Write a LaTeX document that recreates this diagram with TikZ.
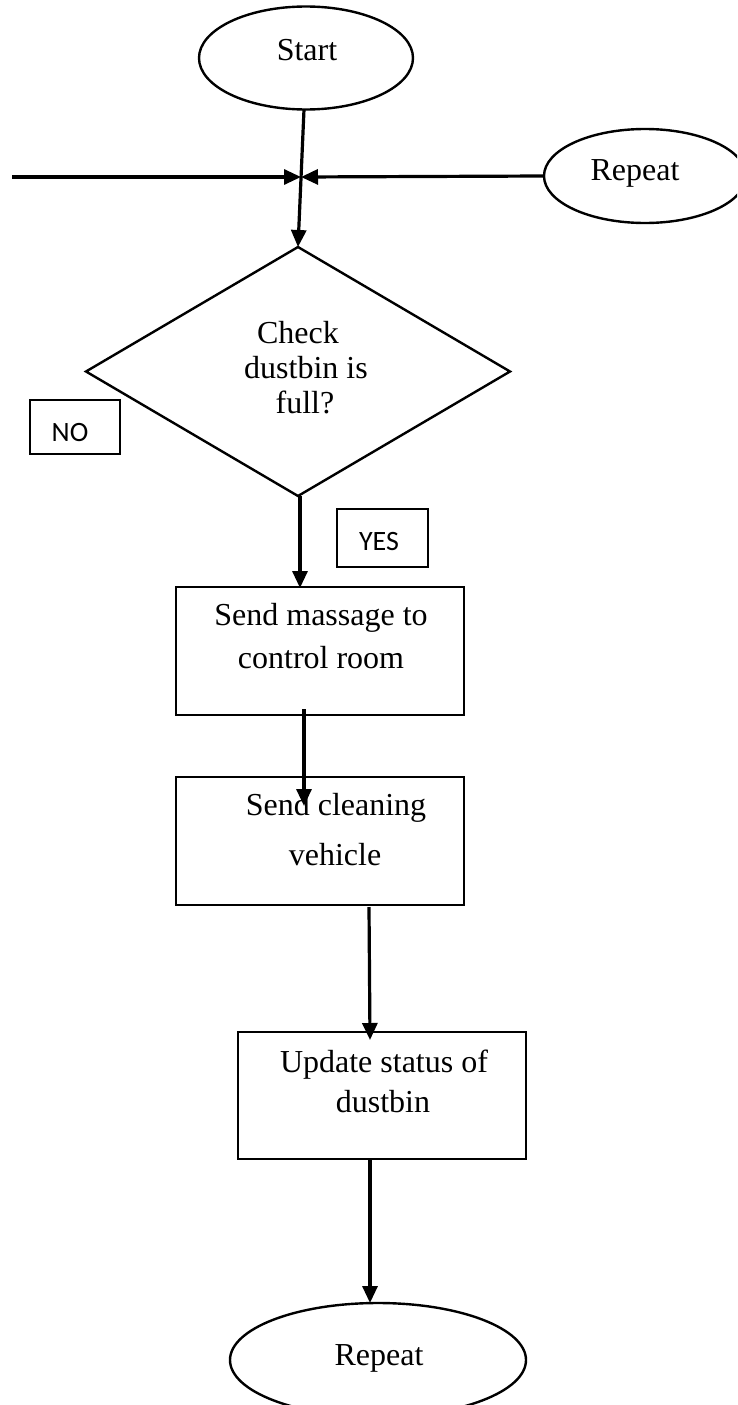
\documentclass[tikz,border=0pt]{standalone}
\usepackage{fontspec}
\setmainfont{Liberation Serif}
\newfontfamily\labelfont{Carlito}
\usetikzlibrary{shapes.geometric,arrows.meta}
\tikzset{
  shapeline/.style={draw=black,line width=2.4pt,inner sep=0pt,outer sep=0pt},
  term/.style={shapeline,ellipse},
  procbox/.style={shapeline,rectangle,line width=2.8pt},
  decision/.style={shapeline,diamond},
  tagbox/.style={shapeline,rectangle,line width=2.8pt},
  txt/.style={anchor=base,inner sep=0pt,font=\fontsize{32}{35}\selectfont},
  tagtxt/.style={anchor=base,inner sep=0pt,font=\labelfont\fontsize{28}{32}\selectfont},
  flow/.style={draw=black,line width=3.2pt,-{Triangle[length=17pt,width=15pt]}}
}
\begin{document}
\begin{tikzpicture}[x=1pt,y=-1pt]
\useasboundingbox (0,0) rectangle (737,1405);
\clip (0,0) rectangle (737,1405);

% shapes
\node[term,minimum width=214pt,minimum height=103pt] (start) at (306,58) {};
\node[term,minimum width=202pt,minimum height=94pt] (rep1) at (645,176) {};
\node[decision,minimum width=424pt,minimum height=249pt] (dia) at (298,371.5) {};
\node[tagbox,minimum width=90pt,minimum height=54pt] (no) at (75,427) {};
\node[tagbox,minimum width=91pt,minimum height=58pt] (yes) at (382.5,538) {};
\node[procbox,minimum width=288pt,minimum height=128pt] (box1) at (320,651) {};
\node[procbox,minimum width=288pt,minimum height=128pt] (box2) at (320,841) {};
\node[procbox,minimum width=288pt,minimum height=127pt] (box3) at (382,1095.5) {};
\node[term,minimum width=296pt,minimum height=114pt] (rep2) at (378,1360) {};

% texts
\node[txt] (tstart) at (307,60) {Start};
\node[txt] (trep1) at (635,180) {Repeat};
\node[txt] (td1) at (298,343) {Check};
\node[txt] (td2) at (306,378) {dustbin is};
\node[txt] (td3) at (305,413) {full?};
\node[tagtxt] (tno) at (70,441) {NO};
\node[tagtxt] (tyes) at (379,550) {YES};
\node[txt] (tb1a) at (321,625) {Send massage to};
\node[txt] (tb1b) at (321,668) {control room};
\node[txt] (tb2a) at (336,815) {Send cleaning};
\node[txt] (tb2b) at (335,865) {vehicle};
\node[txt] (tb3a) at (384,1072) {Update status of};
\node[txt] (tb3b) at (383,1112) {dustbin};
\node[txt] (trep2) at (379,1365) {Repeat};

% coordinates
\coordinate (j) at (301,177);
\coordinate (lin) at (12,177);
\coordinate (a1s) at (304,709);
\coordinate (a1e) at (304,806);
\coordinate (a2s) at (369,907);
\coordinate (a2e) at (370,1040);
\coordinate (a3s) at (370,1159);
\coordinate (a3e) at (370,1303);

% connectors
\draw[flow] (start.south) ++(-2,0) -- (dia.north);
\draw[flow] (lin) -- (j);
\draw[flow] (rep1.west) -- (j);
\draw[flow] (dia.south) ++(2,0) -- (300,588);
\draw[flow] (a1s) -- (a1e);
\draw[flow] (a2s) -- (a2e);
\draw[flow] (a3s) -- (a3e);
\end{tikzpicture}
\end{document}
